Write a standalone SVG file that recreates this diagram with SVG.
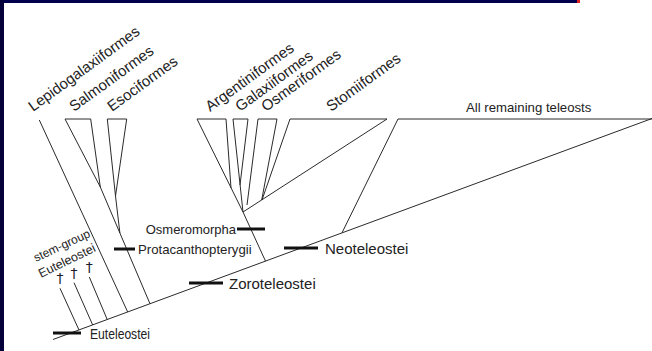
<svg xmlns="http://www.w3.org/2000/svg" width="652" height="351" viewBox="0 0 652 351">
<style>
.l{stroke:#2a2a2a;stroke-width:1;fill:none}
.b{stroke:#111;stroke-width:3}
.t{font-family:"Liberation Sans",Arial,sans-serif;fill:#222}
.r{font-size:15px}
.d{font-family:"DejaVu Sans",sans-serif;font-size:14px;text-anchor:middle;fill:#1a1a2e}
</style>
<rect width="652" height="351" fill="#fff"/>
<rect x="0" y="0" width="578" height="3" fill="#00004e"/>
<rect x="577" y="0" width="3" height="3" fill="#e52222"/>
<rect x="0" y="0" width="4" height="351" fill="#04003a"/>
<g id="connectors">
<path class="l" d="M53,339.5 L652,118.5"/>
<path class="l" d="M398,119 L652,119 M398,119 L342,232.8"/>
<path class="l" d="M39.3,120 L127.7,312"/>
<path class="l" d="M65,119 L90.7,119 M65,119 L100.3,187 M90.7,119 L100.3,187 M100.3,187 L150,303.8"/>
<path class="l" d="M107.3,119 L126.7,119 M107.3,119 L115.5,196 M126.7,119 L115.5,196 L119.9,233"/>
<path class="l" d="M60,288.3 L79,330 M74,282.7 L92.7,325 M89.3,277 L107.3,319.7"/>
<path class="l" d="M243,212 L265.5,261.1"/>
<path class="l" d="M197,119 L226,119 M233,119 L248,119 M258,119 L277,119 M290,119 L387,119"/>
<path class="l" d="M197,119 L243,212 M226,119 L231,188 M233,119 L243,212 M248,119 L240,185 M258,119 L247,205 M277,119 L261.7,200 M290,119 L262,200 M387,119 L243,212"/>
</g>
<g id="bars">
<line class="b" x1="53" y1="333" x2="81" y2="333"/>
<line class="b" x1="114" y1="249" x2="135" y2="249"/>
<line class="b" x1="237" y1="229" x2="265" y2="229"/>
<line class="b" x1="284" y1="248" x2="318" y2="248"/>
<line class="b" x1="189" y1="283" x2="223" y2="283"/>
</g>
<g id="top-labels" class="t r">
<text transform="translate(33,112) rotate(-36)">Lepidogalaxiiformes</text>
<text transform="translate(74,112) rotate(-36)">Salmoniformes</text>
<text transform="translate(112,112) rotate(-36)">Esociformes</text>
<text transform="translate(210,112) rotate(-36)">Argentiniformes</text>
<text transform="translate(240,112) rotate(-36)">Galaxiiformes</text>
<text transform="translate(266,112) rotate(-36)">Osmeriformes</text>
<text transform="translate(331,112) rotate(-36)">Stomiiformes</text>
<text x="466" y="111.5" style="font-size:13.2px">All remaining teleosts</text>
</g>
<g id="clade-labels" class="t">
<text x="236" y="233.5" text-anchor="end" style="font-size:13px">Osmeromorpha</text>
<text x="138" y="253.5" style="font-size:13.2px">Protacanthopterygii</text>
<text x="325" y="254" style="font-size:15px">Neoteleostei</text>
<text x="229" y="288.5" style="font-size:15px">Zoroteleostei</text>
<text x="90" y="339" style="font-size:14px" textLength="60" lengthAdjust="spacingAndGlyphs">Euteleostei</text>
</g>
<g id="stem-group" class="t">
<text transform="translate(36,262) rotate(-25)" style="font-size:12px">stem-group</text>
<text transform="translate(41,278) rotate(-26)" style="font-size:12.5px">Euteleostei</text>
<text class="d" x="60" y="283">†</text>
<text class="d" x="74" y="277.5">†</text>
<text class="d" x="89.3" y="272">†</text>
</g>
</svg>
